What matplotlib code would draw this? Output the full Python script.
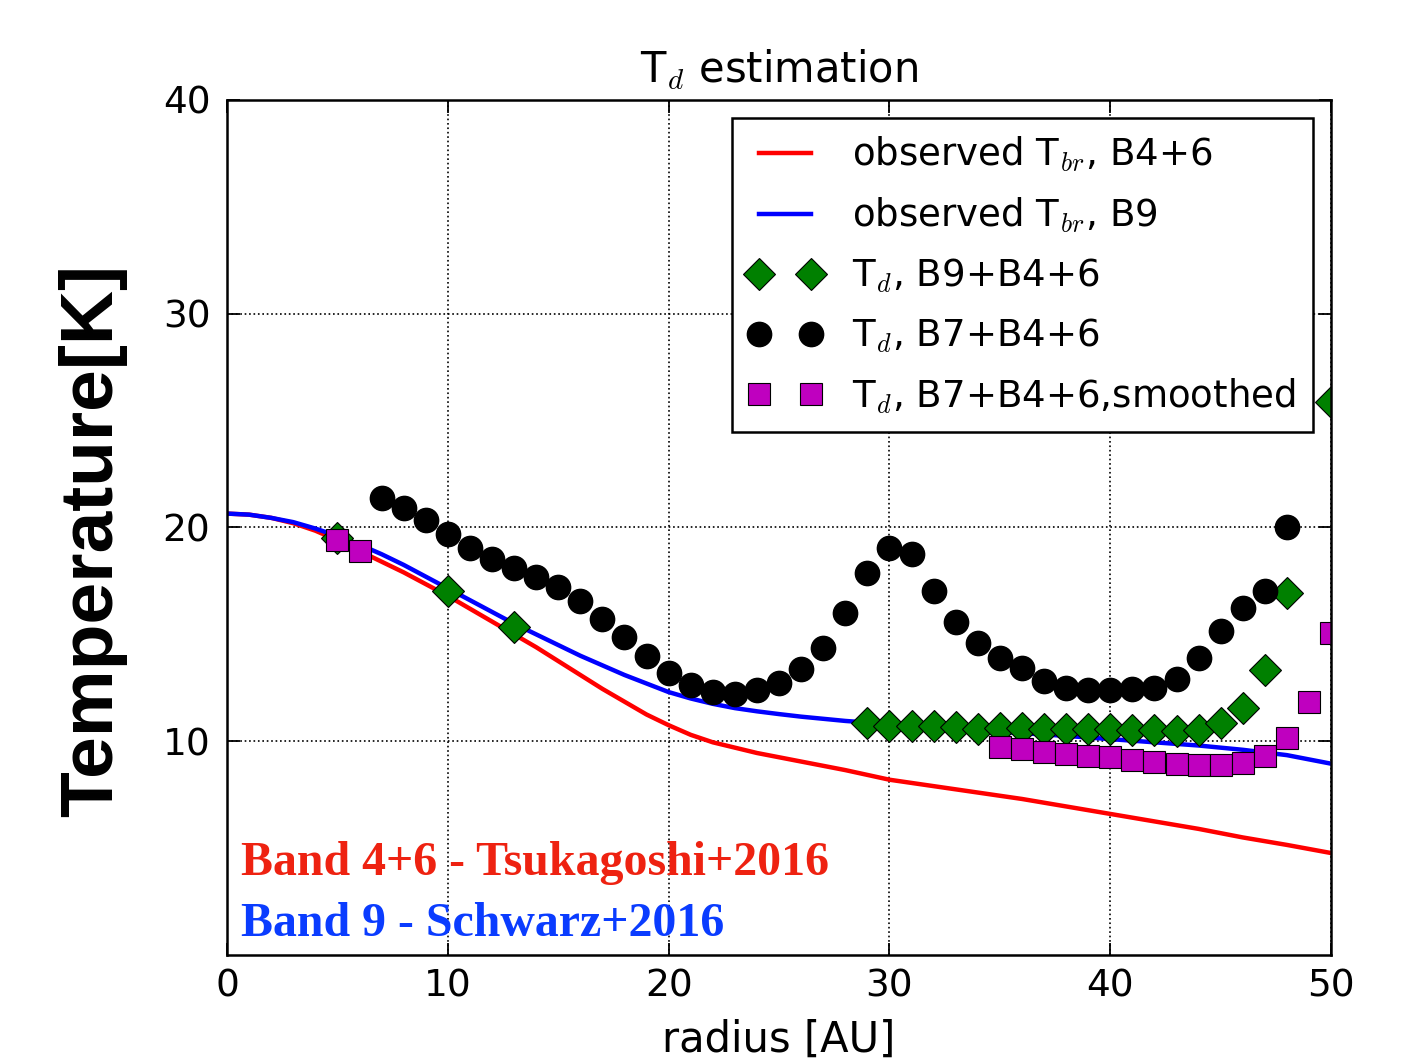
import numpy as np
import matplotlib
matplotlib.use("Agg")
import matplotlib.pyplot as plt

plt.rcParams['mathtext.fontset'] = 'cm'
plt.rcParams['font.family'] = 'DejaVu Sans'

# observed brightness temperature profiles
r_b46 = [0, 1, 2, 3, 4, 5, 6, 7, 8, 9, 10, 11, 12, 13, 14, 15, 16, 17, 18, 19, 20,
         21, 22, 23, 24, 25, 26, 27, 28, 30, 32, 34, 36, 38, 40, 42, 44, 46, 48, 50]
t_b46 = [20.65, 20.6, 20.45, 20.2, 19.85, 19.4, 18.9, 18.4, 17.9, 17.35, 16.8, 16.2, 15.6,
         15.0, 14.4, 13.75, 13.1, 12.45, 11.85, 11.25, 10.75, 10.3, 9.95, 9.7, 9.45, 9.25,
         9.05, 8.85, 8.65, 8.2, 7.9, 7.6, 7.3, 6.95, 6.6, 6.25, 5.9, 5.5, 5.15, 4.77]
r_b9 = [0, 1, 2, 3, 4, 5, 6, 7, 8, 9, 10, 11, 12, 13, 14, 15, 16, 17, 18, 19, 20,
        21, 22, 23, 24, 25, 26, 27, 28, 30, 32, 34, 36, 38, 40, 42, 44, 46, 48, 50]
t_b9 = [20.65, 20.6, 20.45, 20.25, 19.95, 19.6, 19.2, 18.75, 18.25, 17.7, 17.15, 16.6, 16.05,
        15.5, 15.0, 14.5, 14.0, 13.55, 13.1, 12.7, 12.3, 12.0, 11.75, 11.55, 11.4, 11.27,
        11.15, 11.05, 10.95, 10.8, 10.65, 10.5, 10.38, 10.25, 10.1, 9.95, 9.8, 9.6, 9.35, 8.95]

# Td from B9 + B4+6
r_d9 = [5, 10, 13, 29, 30, 31, 32, 33, 34, 35, 36, 37, 38, 39, 40, 41, 42, 43, 44, 45, 46, 47, 48, 50]
t_d9 = [19.53, 17.01, 15.36, 10.83, 10.73, 10.7, 10.7, 10.67, 10.58, 10.63, 10.63, 10.58,
        10.58, 10.55, 10.55, 10.52, 10.52, 10.47, 10.52, 10.83, 11.56, 13.33, 16.92, 25.85]

# Td from B7 + B4+6
r_d7 = list(range(7, 49))
t_d7 = [21.4, 20.93, 20.36, 19.69, 19.02, 18.52, 18.1, 17.69, 17.2, 16.57, 15.72, 14.86,
        14.0, 13.19, 12.63, 12.29, 12.21, 12.41, 12.73, 13.38, 14.36, 16.02, 17.85, 19.04,
        18.75, 17.03, 15.58, 14.61, 13.91, 13.41, 12.81, 12.5, 12.42, 12.42, 12.45, 12.5,
        12.92, 13.91, 15.16, 16.25, 17.03, 20.0]

# Td from B7 + B4+6, smoothed
r_sm = [5, 6, 35, 36, 37, 38, 39, 40, 41, 42, 43, 44, 45, 46, 47, 48, 49, 50]
t_sm = [19.41, 18.91, 9.72, 9.64, 9.5, 9.38, 9.3, 9.25, 9.14, 9.03, 8.95, 8.9, 8.9, 8.98,
        9.33, 10.16, 11.83, 15.08]

fig = plt.figure(figsize=(14.18, 10.61), dpi=100)
ax = fig.add_axes([0.1601, 0.0999, 0.7786, 0.8059])

ax.plot(r_b46, t_b46, color='red', lw=3.2, label=r'observed T$_{br}$, B4+6')
ax.plot(r_b9, t_b9, color='blue', lw=3.2, label=r'observed T$_{br}$, B9')
ax.plot(r_d9, t_d9, 'D', color='green', mec='black', mew=0.8, ms=16.5, label=r'T$_d$, B9+B4+6')
ax.plot(r_d7, t_d7, 'o', color='black', mec='black', ms=17.5, label=r'T$_d$, B7+B4+6')
ax.plot(r_sm, t_sm, 's', color='m', mec='black', mew=0.8, ms=16.5, label=r'T$_d$, B7+B4+6,smoothed')

ax.set_xlim(0, 50)
ax.set_ylim(0, 40)
ax.set_xticks([0, 10, 20, 30, 40, 50])
ax.set_yticks([10, 20, 30, 40])
ax.grid(True, color='black', linestyle=':', lw=1.2)
ax.tick_params(direction='in', length=9, width=1.3, top=True, right=True, labelsize=27)
ax.tick_params(axis='y', pad=12)
ax.tick_params(axis='x', pad=10)
for s in ax.spines.values():
    s.set_linewidth(1.8)

ax.set_title(r'T$_d$ estimation', fontsize=30, pad=12)
ax.set_xlabel('radius [AU]', fontsize=30, labelpad=10)

leg = ax.legend(loc='upper right', numpoints=2, fontsize=26.7, fancybox=False,
                handlelength=2.0, handletextpad=0.8, borderpad=0.45, labelspacing=0.58,
                borderaxespad=0.5, framealpha=1)
leg.get_frame().set_edgecolor('black')
leg.get_frame().set_linewidth(1.8)

fig.text(0.065, 0.491, 'Temperature[K]', rotation=90, fontsize=54, fontweight='bold',
         family='Liberation Sans', ha='center', va='center')
fig.text(0.170, 0.175, 'Band 4+6 - Tsukagoshi+2016', color='#ee2211', fontsize=34.5,
         fontweight='bold', family='Liberation Serif')
fig.text(0.170, 0.118, 'Band 9 - Schwarz+2016', color='#0a3cff', fontsize=34.5,
         fontweight='bold', family='Liberation Serif')

fig.savefig('out.png', dpi=100, facecolor='white')
